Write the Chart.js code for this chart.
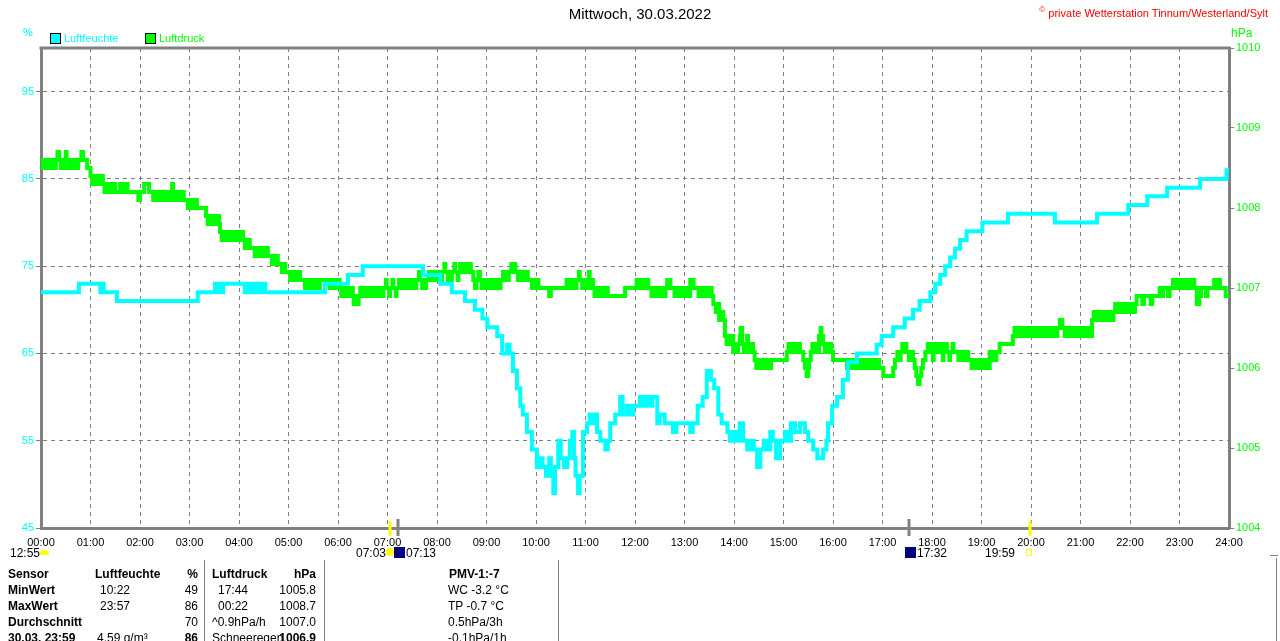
<!DOCTYPE html>
<html>
<head>
<meta charset="utf-8">
<script src="https://cdn.jsdelivr.net/npm/chart.js@4/dist/chart.umd.min.js"></script>
<style>
  body { margin: 0; background: #fff; font-family: "Liberation Sans", Arial, sans-serif; }
  #wrap { position: relative; width: 1280px; height: 641px; overflow: hidden; }
  #weather_Chart { position: absolute; left: 0; top: 0; }
  .t { position: absolute; font-size: 12px; line-height: 16px; white-space: nowrap; color: #000; }
  .b { font-weight: bold; }
  .r { text-align: right; }
  .vl { position: absolute; width: 1px; background: #808080; }
</style>
</head>
<body>
<div id="wrap">
  <canvas id="weather_Chart" width="1280" height="641"></canvas>

  <div class="t" style="left:0;width:1280px;top:6px;text-align:center;font-size:15px;">Mittwoch, 30.03.2022</div>
  <div class="t" style="right:12px;top:2px;font-size:11px;color:#ff0000;"><sup style="font-size:8px">©</sup> private Wetterstation Tinnum/Westerland/Sylt</div>

  <div class="t" style="left:23px;top:24px;font-size:11px;color:#00ffff;">%</div>
  <div class="t" style="left:1231px;top:25px;font-size:12px;color:#00ff00;">hPa</div>

  <div style="position:absolute;left:50px;top:33px;width:9px;height:9px;border:1px solid #000;background:#00ffff;"></div>
  <div class="t" style="left:64px;top:30px;font-size:11px;color:#00ffff;">Luftfeuchte</div>
  <div style="position:absolute;left:145px;top:33px;width:9px;height:9px;border:1px solid #000;background:#00ff00;"></div>
  <div class="t" style="left:159px;top:30px;font-size:11px;color:#00ff00;">Luftdruck</div>

  <!-- sun / moon labels under the time axis -->
  <div class="t" style="left:10px;top:545px;">12:55</div>
  <div style="position:absolute;left:40px;top:550px;width:9px;height:5px;border-radius:5px 5px 0 0;background:#ffff00;"></div>
  <div class="t" style="left:356px;top:545px;">07:03</div>
  <div style="position:absolute;left:386px;top:548px;width:8px;height:8px;border-radius:4px;background:#ffff00;"></div>
  <div style="position:absolute;left:394px;top:547px;width:11px;height:11px;background:#000080;"></div>
  <div class="t" style="left:406px;top:545px;">07:13</div>
  <div style="position:absolute;left:905px;top:547px;width:11px;height:11px;background:#000080;"></div>
  <div class="t" style="left:917px;top:545px;">17:32</div>
  <div class="t" style="left:985px;top:545px;">19:59</div>
  <div style="position:absolute;left:1026px;top:549px;width:4px;height:5px;border:1px solid #ffff00;"></div>

  <!-- table -->
  <div class="vl" style="left:204px;top:560px;height:81px;"></div>
  <div class="vl" style="left:324px;top:560px;height:81px;"></div>
  <div class="vl" style="left:558px;top:560px;height:81px;"></div>
  <div class="vl" style="left:1276px;top:558px;height:83px;"></div>
  <div style="position:absolute;left:1270px;top:555px;width:8px;height:1px;background:#808080;"></div>

  <div class="t b" style="left:8px;top:566px;">Sensor</div>
  <div class="t b" style="left:95px;top:566px;">Luftfeuchte</div>
  <div class="t b r" style="left:170px;width:28px;top:566px;">%</div>
  <div class="t b" style="left:212px;top:566px;">Luftdruck</div>
  <div class="t b r" style="left:270px;width:46px;top:566px;">hPa</div>
  <div class="t b" style="left:449px;top:566px;">PMV-1:-7</div>

  <div class="t b" style="left:8px;top:582px;">MinWert</div>
  <div class="t" style="left:100px;top:582px;">10:22</div>
  <div class="t r" style="left:170px;width:28px;top:582px;">49</div>
  <div class="t" style="left:218px;top:582px;">17:44</div>
  <div class="t r" style="left:260px;width:56px;top:582px;">1005.8</div>
  <div class="t" style="left:448px;top:582px;">WC -3.2 °C</div>

  <div class="t b" style="left:8px;top:598px;">MaxWert</div>
  <div class="t" style="left:100px;top:598px;">23:57</div>
  <div class="t r" style="left:170px;width:28px;top:598px;">86</div>
  <div class="t" style="left:218px;top:598px;">00:22</div>
  <div class="t r" style="left:260px;width:56px;top:598px;">1008.7</div>
  <div class="t" style="left:448px;top:598px;">TP -0.7 °C</div>

  <div class="t b" style="left:8px;top:614px;">Durchschnitt</div>
  <div class="t r" style="left:170px;width:28px;top:614px;">70</div>
  <div class="t" style="left:212px;top:614px;">^0.9hPa/h</div>
  <div class="t r" style="left:260px;width:56px;top:614px;">1007.0</div>
  <div class="t" style="left:448px;top:614px;">0.5hPa/3h</div>

  <div class="t b" style="left:8px;top:630px;">30.03. 23:59</div>
  <div class="t" style="left:97px;top:630px;">4.59 g/m³</div>
  <div class="t b r" style="left:170px;width:28px;top:630px;">86</div>
  <div class="t" style="left:212px;top:630px;">Schneeregen</div>
  <div class="t b r" style="left:260px;width:56px;top:630px;">1006.9</div>
  <div class="t" style="left:448px;top:630px;">-0.1hPa/1h</div>
</div>

<script>
// time axis: minutes since midnight
const hourTicks = [0,60,120,180,240,300,360,420,480,540,600,660,720,780,840,900,960,1020,1080,1140,1200,1260,1320,1380,1440];
const humTicks = [45,55,65,75,85,95];
const pressTicks = [1004,1005,1006,1007,1008,1009,1010];

const sunEvents = [423, 1199];   // 07:03, 19:59
const moonEvents = [433, 1052];  // 07:13, 17:32

// Luftfeuchte (%), stepped
const humTimes = [0,46,72,74,76,92,190,211,212,214,216,218,219,221,247,249,250,252,253,256,257,259,260,262,264,266,268,270,272,280,344,372,390,463,484,498,514,526,535,541,553,559,565,568,572,577,581,584,589,595,601,605,608,612,616,618,621,623,627,630,634,638,641,644,646,648,651,653,657,662,665,668,670,674,678,684,687,690,696,702,705,710,714,718,726,730,733,737,741,747,750,756,766,770,787,790,796,802,807,812,816,821,825,832,835,840,844,847,851,856,861,864,868,872,876,880,884,887,891,896,902,905,909,914,920,926,930,936,941,948,952,954,959,965,972,978,989,1013,1019,1033,1047,1057,1065,1078,1084,1090,1096,1102,1108,1114,1122,1141,1172,1229,1280,1318,1341,1365,1405,1437,1440];
const humValues = [72,73,72,73,72,71,72,73,72,73,72,73,72,73,72,73,72,73,72,73,72,73,72,73,72,73,72,73,72,72,73,74,75,74,73,72,71,70,69,68,67,65,66,65,63,61,59,58,56,54,52,53,52,51,53,51,49,52,55,53,52,53,55,56,53,51,49,51,56,57,58,57,58,56,55,54,55,57,58,60,58,59,58,59,60,59,60,59,60,57,58,57,56,57,56,57,59,60,63,62,61,58,57,56,55,56,55,57,55,54,55,54,52,54,55,54,56,55,53,55,56,55,57,56,57,56,55,54,53,54,55,57,59,60,62,64,65,66,67,68,69,70,71,72,73,74,75,76,77,78,79,80,81,80,81,82,83,84,85,86,86];

// Luftdruck (hPa), stepped: [minute, value] readings
const pressTimes = [
  0,2,3,5,6,8,10,13,14,17,18,20,22,24,25,27,28,30,31,33,34,36,38,41,42,44,45,49,51,56,
  60,62,63,65,66,68,70,72,73,75,77,78,80,82,84,85,87,88,90,
  96,97,100,101,104,105,118,120,125,131,
  136,138,139,142,143,145,146,149,150,152,153,156,157,159,160,161,164,165,168,169,172,173,
  178,180,181,184,185,188,189,
  200,202,203,205,207,209,210,212,214,216,
  217,219,220,222,224,226,227,230,231,233,235,237,238,241,242,
  245,247,248,250,251,253,
  257,259,260,263,264,267,268,271,272,275,
  278,280,281,284,285,287,
  290,292,293,296,
  300,302,303,306,307,310,311,314,
  318,320,321,324,325,328,329,332,334,337,338,
  350,351,356,357,
  362,364,365,368,369,372,374,
  378,379,381,383,385,
  387,389,390,393,394,397,398,401,402,405,406,409,410,414,415,418,419,422,423,426,427,
  430,431,434,436,439,440,
  444,446,447,450,451,454,455,458,459,462,463,466,467,470,471,
  475,477,478,481,482,485,486,489,490,493,494,497,498,501,502,505,506,
  508,510,511,513,515,517,519,521,
  524,526,528,530,532,534,
  536,538,540,543,544,547,548,551,552,555,557,
  560,562,563,566,567,570,571,574,575,578,579,582,583,586,587,590,
  593,595,596,599,600,603,
  605,616,618,
  637,639,641,644,645,648,649,652,653,656,657,660,662,664,665,667,
  669,671,672,675,676,679,680,683,684,687,
  708,
  722,724,725,728,729,732,733,736,
  738,740,741,744,745,748,749,752,753,756,757,
  759,763,
  766,768,769,772,773,776,777,780,781,784,
  787,791,
  795,797,798,801,802,805,806,809,810,813,
  815,818,820,822,824,827,829,831,833,835,837,839,841,843,845,847,848,850,852,854,856,857,859,861,863,
  865,867,869,871,873,874,877,878,881,882,885,
  904,906,907,910,911,914,915,918,920,
  924,926,928,930,931,
  933,935,936,939,940,943,945,946,948,950,952,954,956,958,
  960,
  977,979,980,983,984,987,988,991,992,995,996,999,1000,1003,1004,1007,1008,1011,1012,1015,1016,
  1021,
  1033,1035,1038,1039,1042,1044,1045,1048,1049,1052,1055,1057,
  1059,1061,1063,1065,1067,1069,1072,
  1075,1077,1078,1081,1082,1085,1086,1089,1090,1093,1094,1097,1098,1101,1102,1105,1106,
  1110,1112,1113,1116,1117,1120,1121,1124,
  1126,1128,1129,1132,1133,1136,1137,1140,1141,1144,1145,1148,
  1150,1152,1154,1157,1158,
  1162,
  1178,1180,1181,1184,1186,1188,1190,1193,1194,1197,1198,1201,1202,1205,1206,1209,1210,1213,1214,1217,1219,1222,1224,1227,1229,1232,1235,1238,1241,1243,1245,1248,1249,1252,1253,1256,1257,1260,1261,1264,1265,1268,1270,
  1274,1276,1278,1280,1281,1284,1285,1288,1289,1292,1293,1296,1297,
  1300,1302,1303,1306,1307,1310,1311,1314,1315,1318,1319,1322,1323,
  1326,1328,1335,1337,1345,1347,
  1356,1358,1360,1366,1368,
  1372,1374,1375,1378,1379,1382,1383,1386,1387,1390,1391,1394,1395,1398,
  1401,1404,1406,1412,1414,1422,1425,1428,1429,1436,1440
];
const pressValues = [
  1008.6,1008.5,1008.6,1008.5,1008.6,1008.5,1008.6,1008.5,1008.6,1008.5,1008.6,1008.7,1008.6,1008.5,1008.6,1008.5,1008.6,1008.7,1008.6,1008.5,1008.6,1008.5,1008.6,1008.5,1008.6,1008.5,1008.6,1008.7,1008.6,1008.5,
  1008.4,1008.3,1008.4,1008.3,1008.4,1008.3,1008.4,1008.3,1008.4,1008.3,1008.2,1008.3,1008.2,1008.3,1008.2,1008.3,1008.2,1008.3,1008.2,
  1008.3,1008.2,1008.3,1008.2,1008.3,1008.2,1008.1,1008.2,1008.3,1008.2,
  1008.1,1008.2,1008.1,1008.2,1008.1,1008.2,1008.1,1008.2,1008.1,1008.2,1008.1,1008.2,1008.1,1008.3,1008.2,1008.1,1008.2,1008.1,1008.2,1008.1,1008.2,1008.1,
  1008.0,1008.1,1008.0,1008.1,1008.0,1008.1,1008.0,
  1007.9,1007.8,1007.9,1007.8,1007.9,1007.8,1007.9,1007.8,1007.9,1007.8,
  1007.7,1007.6,1007.7,1007.6,1007.7,1007.6,1007.7,1007.6,1007.7,1007.6,1007.7,1007.6,1007.7,1007.6,1007.7,
  1007.6,1007.5,1007.6,1007.5,1007.6,1007.5,
  1007.5,1007.4,1007.5,1007.4,1007.5,1007.4,1007.5,1007.4,1007.5,1007.4,
  1007.4,1007.3,1007.4,1007.3,1007.4,1007.3,
  1007.3,1007.2,1007.3,1007.2,
  1007.2,1007.1,1007.2,1007.1,1007.2,1007.1,1007.2,1007.1,
  1007.1,1007.0,1007.1,1007.0,1007.1,1007.0,1007.1,1007.0,1007.1,1007.0,1007.1,
  1007.0,1007.1,1007.0,1007.1,
  1007.0,1006.9,1007.0,1006.9,1007.0,1006.9,1007.0,
  1006.9,1006.8,1006.9,1006.8,1006.9,
  1007.0,1006.9,1007.0,1006.9,1007.0,1006.9,1007.0,1006.9,1007.0,1006.9,1007.0,1006.9,1007.0,1006.9,1007.0,1007.1,1007.0,1006.9,1007.0,1007.1,1007.0,
  1006.9,1007.0,1007.1,1007.0,1007.1,1007.0,
  1007.1,1007.0,1007.1,1007.0,1007.1,1007.0,1007.1,1007.2,1007.1,1007.0,1007.1,1007.0,1007.1,1007.2,1007.1,
  1007.2,1007.1,1007.2,1007.1,1007.2,1007.1,1007.2,1007.3,1007.2,1007.1,1007.2,1007.1,1007.2,1007.3,1007.2,1007.1,1007.2,
  1007.3,1007.2,1007.3,1007.2,1007.3,1007.2,1007.3,1007.2,
  1007.1,1007.0,1007.1,1007.2,1007.1,1007.0,
  1007.1,1007.0,1007.1,1007.0,1007.1,1007.0,1007.1,1007.0,1007.1,1007.0,1007.1,
  1007.2,1007.1,1007.2,1007.1,1007.2,1007.3,1007.2,1007.3,1007.2,1007.1,1007.2,1007.1,1007.2,1007.1,1007.2,1007.1,
  1007.1,1007.0,1007.1,1007.0,1007.1,1007.0,
  1007.0,1006.9,1007.0,
  1007.1,1007.0,1007.1,1007.0,1007.1,1007.0,1007.1,1007.2,1007.1,1007.0,1007.1,1007.0,1007.1,1007.2,1007.0,1007.1,
  1007.0,1006.9,1007.0,1006.9,1007.0,1006.9,1007.0,1006.9,1007.0,1006.9,
  1007.0,
  1007.1,1007.0,1007.1,1007.0,1007.1,1007.0,1007.1,1007.0,
  1007.0,1006.9,1007.0,1006.9,1007.0,1006.9,1007.0,1006.9,1007.0,1006.9,1007.0,
  1007.1,1007.0,
  1007.0,1006.9,1007.0,1006.9,1007.0,1006.9,1007.0,1006.9,1007.0,1006.9,
  1007.1,1007.0,
  1007.0,1006.9,1007.0,1006.9,1007.0,1006.9,1007.0,1006.9,1007.0,1006.9,
  1006.8,1006.7,1006.8,1006.6,1006.7,1006.6,1006.4,1006.3,1006.4,1006.3,1006.4,1006.2,1006.3,1006.2,1006.3,1006.4,1006.5,1006.3,1006.2,1006.3,1006.4,1006.3,1006.2,1006.3,1006.2,
  1006.1,1006.0,1006.1,1006.0,1006.1,1006.0,1006.1,1006.0,1006.1,1006.0,1006.1,
  1006.2,1006.3,1006.2,1006.3,1006.2,1006.3,1006.2,1006.3,1006.2,
  1006.1,1006.0,1005.9,1006.0,1006.1,
  1006.2,1006.3,1006.2,1006.3,1006.2,1006.4,1006.5,1006.4,1006.3,1006.2,1006.3,1006.2,1006.3,1006.2,
  1006.1,
  1006.0,1006.1,1006.0,1006.1,1006.0,1006.1,1006.0,1006.1,1006.0,1006.1,1006.0,1006.1,1006.0,1006.1,1006.0,1006.1,1006.0,1006.1,1006.0,1006.1,1006.0,
  1005.9,
  1006.0,1006.1,1006.2,1006.1,1006.2,1006.3,1006.2,1006.3,1006.2,1006.1,1006.2,1006.1,
  1006.0,1005.9,1005.8,1005.9,1006.0,1006.1,1006.2,
  1006.3,1006.2,1006.3,1006.1,1006.3,1006.2,1006.3,1006.2,1006.3,1006.1,1006.2,1006.3,1006.2,1006.1,1006.2,1006.3,1006.2,
  1006.2,1006.1,1006.2,1006.1,1006.2,1006.1,1006.2,1006.1,
  1006.1,1006.0,1006.1,1006.0,1006.1,1006.0,1006.1,1006.0,1006.1,1006.0,1006.1,1006.0,
  1006.2,1006.1,1006.2,1006.1,1006.2,
  1006.3,
  1006.4,1006.5,1006.4,1006.5,1006.4,1006.5,1006.4,1006.5,1006.4,1006.5,1006.4,1006.5,1006.4,1006.5,1006.4,1006.5,1006.4,1006.5,1006.4,1006.5,1006.4,1006.5,1006.4,1006.5,1006.4,1006.5,1006.6,1006.5,1006.4,1006.5,1006.4,1006.5,1006.4,1006.5,1006.4,1006.5,1006.4,1006.5,1006.4,1006.5,1006.4,1006.5,1006.4,
  1006.6,1006.7,1006.6,1006.7,1006.6,1006.7,1006.6,1006.7,1006.6,1006.7,1006.6,1006.7,1006.6,
  1006.7,1006.8,1006.7,1006.8,1006.7,1006.8,1006.7,1006.8,1006.7,1006.8,1006.7,1006.8,1006.7,
  1006.8,1006.9,1006.8,1006.9,1006.8,1006.9,
  1007.0,1006.9,1007.0,1006.9,1007.0,
  1007.1,1007.0,1007.1,1007.0,1007.1,1007.0,1007.1,1007.0,1007.1,1007.0,1007.1,1007.0,1007.1,1007.0,
  1006.8,1006.9,1007.0,1006.9,1007.0,1007.1,1007.0,1007.1,1007.0,1006.9,1006.9
];

const GRAY = '#808080';
const ctx = document.getElementById('weather_Chart');

function hhmm(m) {
    const h = Math.floor(m / 60);
    return (h < 10 ? '0' : '') + h + ':00';
}

// top frame line + sunrise/sunset/moon markers on the time axis
const framePlugin = {
    id: 'frame',
    afterDraw(chart) {
        const c = chart.ctx, a = chart.chartArea, x = chart.scales.x;
        c.save();
        c.strokeStyle = GRAY;
        c.lineWidth = 3;
        c.beginPath();
        c.moveTo(a.left - 1.5, a.top);
        c.lineTo(a.right + 1.5, a.top);
        c.stroke();
        c.strokeStyle = '#ffff00';
        sunEvents.forEach(m => {
            const px = Math.round(x.getPixelForValue(m));
            c.beginPath(); c.moveTo(px, a.bottom - 7); c.lineTo(px, a.bottom + 8); c.stroke();
        });
        c.strokeStyle = GRAY;
        moonEvents.forEach(m => {
            const px = Math.round(x.getPixelForValue(m));
            c.beginPath(); c.moveTo(px, a.bottom - 9); c.lineTo(px, a.bottom + 8); c.stroke();
        });
        c.restore();
    }
};

function Weather_Chart() {
    new Chart(ctx, {
        type: 'line',
        data: {
            datasets: [
                {
                    label: 'Luftfeuchte',
                    data: humTimes.map((t, i) => ({ x: t, y: humValues[i] })),
                    yAxisID: 'y',
                    borderColor: '#00ffff',
                    borderWidth: 4,
                    stepped: true,
                    pointRadius: 0
                },
                {
                    label: 'Luftdruck',
                    data: pressTimes.map((t, i) => ({ x: t, y: pressValues[i] })),
                    yAxisID: 'y1',
                    borderColor: '#00ff00',
                    borderWidth: 4,
                    stepped: true,
                    pointRadius: 0
                }
            ]
        },
        options: {
            responsive: false,
            animation: false,
            devicePixelRatio: 1,
            layout: { padding: { top: 48, left: 0, right: 0, bottom: 0 } },
            plugins: {
                legend: { display: false },
                tooltip: { enabled: false }
            },
            scales: {
                x: {
                    type: 'linear',
                    min: 0,
                    max: 1440,
                    afterBuildTicks: s => { s.ticks = hourTicks.map(v => ({ value: v })); },
                    afterFit: s => { s.height = 113; },
                    ticks: {
                        callback: v => hhmm(v),
                        color: '#000',
                        font: { size: 11 },
                        padding: 8,
                        maxRotation: 0,
                        autoSkip: false
                    },
                    grid: { color: GRAY, lineWidth: 1, drawTicks: false },
                    border: { display: true, color: GRAY, width: 3, dash: [4, 4] }
                },
                y: {
                    position: 'left',
                    min: 45,
                    max: 100,
                    afterBuildTicks: s => { s.ticks = humTicks.map(v => ({ value: v })); },
                    afterFit: s => { s.width = 41; },
                    ticks: { color: '#00ffff', font: { size: 11 }, padding: 2, callback: v => String(v) },
                    grid: { color: GRAY, lineWidth: 1, tickLength: 5, tickColor: GRAY, tickBorderDash: [] },
                    border: { display: true, color: GRAY, width: 3, dash: [4, 4] }
                },
                y1: {
                    position: 'right',
                    min: 1004,
                    max: 1010,
                    afterBuildTicks: s => { s.ticks = pressTicks.map(v => ({ value: v })); },
                    afterFit: s => { s.width = 51; },
                    ticks: { color: '#00ff00', font: { size: 11 }, padding: 2, callback: v => String(v) },
                    grid: { drawOnChartArea: false, tickLength: 5, tickColor: GRAY },
                    border: { display: true, color: GRAY, width: 3 }
                }
            }
        },
        plugins: [framePlugin]
    });
}
Chart.defaults.font.family = '"Liberation Sans", Arial, sans-serif';
Weather_Chart();
</script>
</body>
</html>
